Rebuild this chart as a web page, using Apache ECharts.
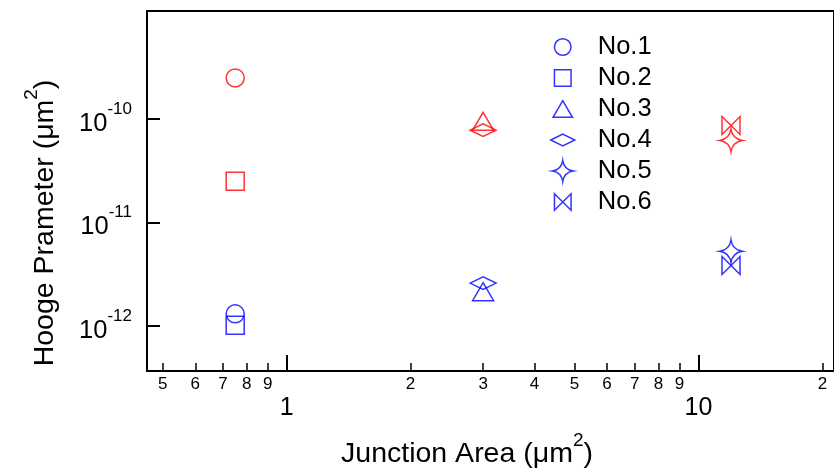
<!DOCTYPE html>
<html>
<head>
<meta charset="utf-8">
<script src="https://cdn.jsdelivr.net/npm/echarts@6/dist/echarts.min.js"></script>
<style>
  html, body { margin: 0; padding: 0; background: #fff; }
  #chart { width: 834px; height: 475px; }
</style>
</head>
<body>
<div id="chart"></div>
<script>
// values
const seriesNames = ["No.1", "No.2", "No.3", "No.4", "No.5", "No.6"];
const areas = [0.75, 0.75, 3, 3, 12, 12];
const redValues = [2.5e-10, 2.5e-11, 9.5e-11, 7.8e-11, 6.2e-11, 8.65e-11];
const blueValues = [1.3e-12, 1.01e-12, 2.13e-12, 2.58e-12, 5.24e-12, 3.82e-12];

// tick labels
const xMinorTicks = [0.5, 0.6, 0.7, 0.8, 0.9, 2, 3, 4, 5, 6, 7, 8, 9, 20];
const xMajorTicks = [1, 10];
const yTicks = [1e-12, 1e-11, 1e-10];

const RED = "#ff0000";
const BLUE = "#0000ff";
const FONT = "Liberation Sans, Arial, sans-serif";

// all symbols share a 26x26 box so chart and legend scale the same way
const pad = "M-13,-13 M13,13 ";
const symbols = [
  "path://" + pad + "M-9,0 A9,9 0 1,1 9,0 A9,9 0 1,1 -9,0 Z",
  "path://" + pad + "M-9,-9 L9,-9 L9,9 L-9,9 Z",
  "path://" + pad + "M0,-9 L10.5,9 L-10.5,9 Z",
  "path://" + pad + "M-13,0 L0,-6.3 L13,0 L0,6.3 Z",
  "path://" + pad + "M0,-11.3 Q1.5,-1.5 11.3,0 Q1.5,1.5 0,11.3 Q-1.5,1.5 -11.3,0 Q-1.5,-1.5 0,-11.3 Z",
  "path://" + pad + "M-9,-9 L9,9 L9,-9 L-9,9 Z",
];

const log = Math.log10;
const leadDigit = function (v) {
  return String(Math.round(Math.pow(10, v - Math.floor(v + 1e-9))));
};

const titleRich = {
  t: { fontSize: 28.5, lineHeight: 38, verticalAlign: "bottom", color: "#000", fontFamily: FONT },
  s: { fontSize: 19, lineHeight: 19, verticalAlign: "top", color: "#000", fontFamily: FONT },
};

let chart = echarts.init(document.getElementById("chart"));

let options = {
  animation: false,
  textStyle: { fontFamily: FONT, color: "#000" },
  grid: {
    left: 147,
    top: 11,
    right: -2,
    bottom: 104,
    show: true,
    borderColor: "#000",
    borderWidth: 2,
  },
  legend: {
    orient: "vertical",
    left: 545,
    top: 29,
    itemWidth: 60,
    itemHeight: 24,
    itemGap: 5,
    selectedMode: false,
    textStyle: { fontSize: 25.5, color: "#000", fontFamily: FONT },
    itemStyle: { color: "rgba(0,0,0,0)", borderColor: BLUE, borderWidth: 1.5 },
    data: seriesNames.map(function (n, i) {
      return { name: n, icon: symbols[i] };
    }),
  },
  xAxis: [
    {
      type: "value",
      min: log(0.458),
      max: 1.3293,
      position: "bottom",
      splitLine: { show: false },
      axisLine: { show: true, onZero: false, lineStyle: { color: "#000", width: 2 } },
      axisTick: {
        show: true,
        inside: true,
        length: 8,
        customValues: xMinorTicks.map(log),
        lineStyle: { color: "#000", width: 1.5 },
      },
      axisLabel: {
        customValues: xMinorTicks.map(log),
        formatter: leadDigit,
        fontSize: 17,
        margin: 5,
        color: "#000",
      },
      name: "{t|Junction Area (μm}{s|2}{t|)}",
      nameLocation: "middle",
      nameGap: 60,
      nameTextStyle: { padding: [0, 47, 0, 0], rich: titleRich },
    },
    {
      type: "value",
      min: log(0.458),
      max: 1.3293,
      position: "bottom",
      offset: 0,
      splitLine: { show: false },
      axisLine: { show: false, onZero: false },
      axisTick: {
        show: true,
        inside: true,
        length: 16,
        customValues: xMajorTicks.map(log),
        lineStyle: { color: "#000", width: 2 },
      },
      axisLabel: {
        customValues: xMajorTicks.map(log),
        formatter: function (v) {
          return String(Math.round(Math.pow(10, v)));
        },
        fontSize: 25,
        margin: 25,
        color: "#000",
      },
    },
  ],
  yAxis: {
    type: "value",
    min: -12.4395,
    max: -8.9545,
    splitLine: { show: false },
    axisLine: { show: true, onZero: false, lineStyle: { color: "#000", width: 2 } },
    axisTick: {
      show: true,
      inside: true,
      length: 13,
      customValues: yTicks.map(log),
      lineStyle: { color: "#000", width: 2 },
    },
    axisLabel: {
      customValues: yTicks.map(log),
      margin: 15,
      formatter: function (v) {
        return "{b|10}{s|" + Math.round(v) + "}";
      },
      rich: {
        b: { fontSize: 25.5, lineHeight: 36, verticalAlign: "bottom", color: "#000", fontFamily: FONT },
        s: { fontSize: 17, lineHeight: 17, verticalAlign: "top", color: "#000", fontFamily: FONT },
      },
    },
    name: "{t|Hooge Prameter (μm}{s|2}{t|)}",
    nameLocation: "middle",
    nameRotate: 90,
    nameGap: 87,
    nameTextStyle: { padding: [0, 64, 0, 0], rich: titleRich },
  },
  series: seriesNames.map(function (name, i) {
    return {
      name: name,
      type: "scatter",
      xAxisIndex: 0,
      symbol: symbols[i],
      symbolSize: 26,
      itemStyle: { color: "rgba(0,0,0,0)", borderColor: BLUE, borderWidth: 1.5 },
      emphasis: { disabled: true },
      data: [
        { value: [log(areas[i]), log(redValues[i])], itemStyle: { borderColor: RED } },
        { value: [log(areas[i]), log(blueValues[i])] },
      ],
    };
  }),
};

chart.setOption(options);
</script>
</body>
</html>
